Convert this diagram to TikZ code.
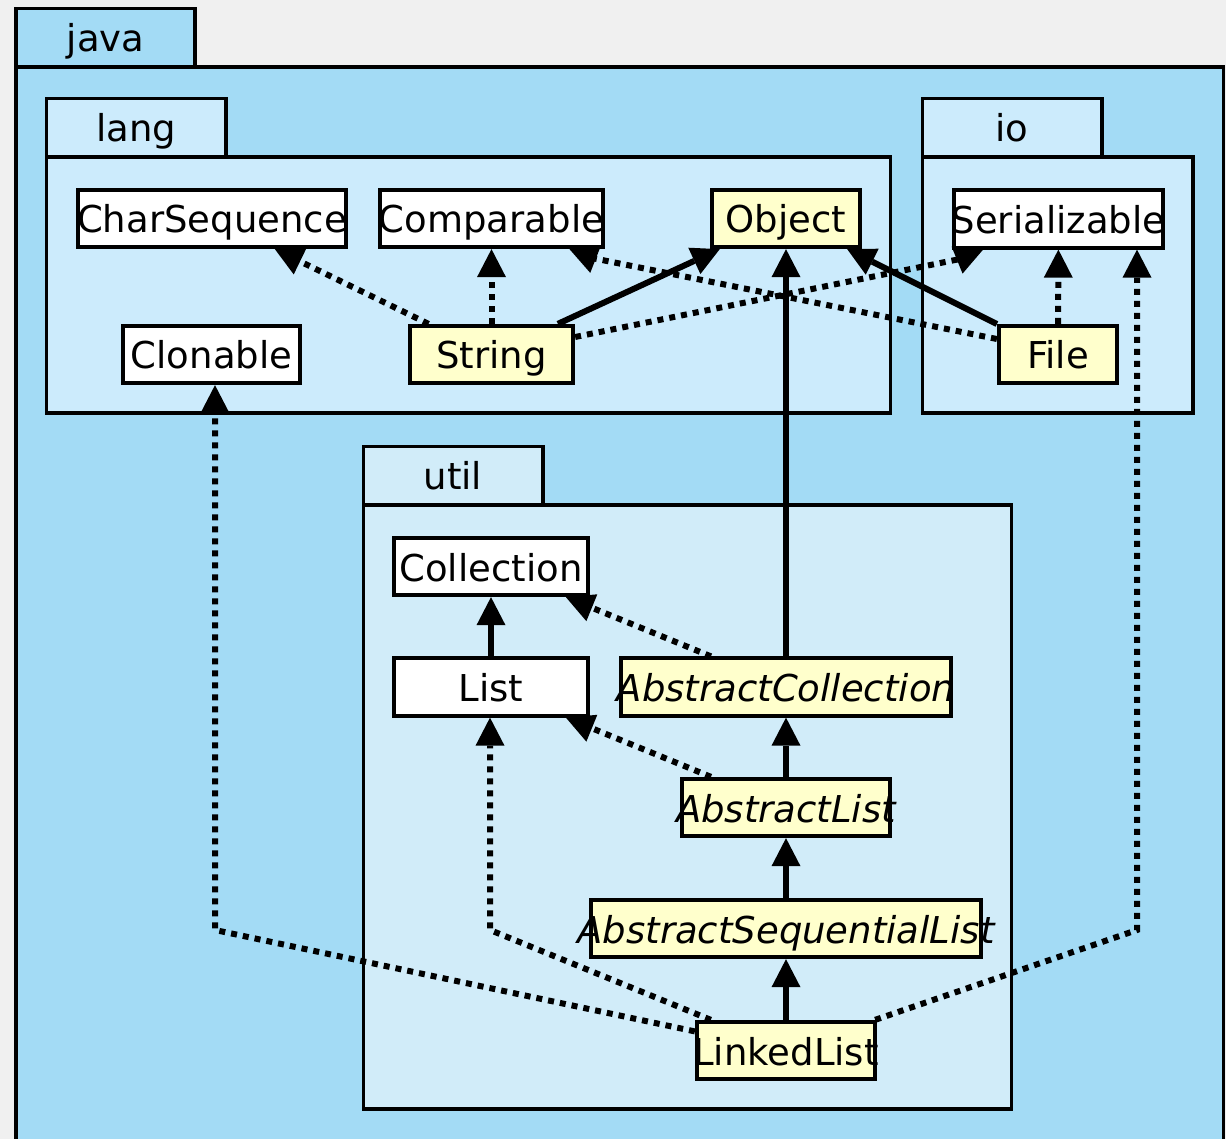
\documentclass[tikz,border=0pt]{standalone}
\usepackage{fontspec}
\setmainfont{DejaVu Sans}
\usetikzlibrary{arrows.meta,calc}

\definecolor{pagebg}{HTML}{F0F0F0}
\definecolor{javafill}{HTML}{A3DBF5}
\definecolor{langfill}{HTML}{CCEBFC}
\definecolor{utilfill}{HTML}{D1ECF9}
\definecolor{concrete}{HTML}{FFFFCC}

% class name that never widens its box
\newcommand{\clsname}[1]{\makebox[0pt][c]{#1}}

\tikzset{
  pkg/.style={draw=black, line width=3.5pt},
  pkglabel/.style={inner sep=0pt, text height=36pt, text depth=7pt,
    font=\fontsize{37}{44}\selectfont},
  cls/.style={draw=black, fill=white, line width=3.8pt, inner sep=0pt,
    minimum height=57.5pt, text height=36pt, text depth=7pt,
    font=\fontsize{37}{44}\selectfont},
  impl/.style={cls, fill=concrete},
  abstr/.style={impl, font=\fontsize{37}{44}\selectfont\itshape},
  solidline/.style={line width=6pt},
  dotline/.style={line width=6pt, dash pattern=on 6pt off 6pt},
  tip/.style={-{Triangle[length=28pt,width=29pt,line width=0pt]}},
}

\begin{document}
\begin{tikzpicture}[x=1pt, y=-1pt]
  \useasboundingbox (0,0) rectangle (1226,1139);
  \fill[pagebg] (0,0) rectangle (1226,1139);
  \clip (0,0) rectangle (1226,1139);

  % package java
  \filldraw[pkg, fill=javafill] (16,8.5) rectangle (195,67);
  \filldraw[pkg, fill=javafill] (16,67) rectangle (1223.5,1170);
  \node[pkglabel] (javalbl) at (105.5,37) {java};

  % package lang
  \filldraw[pkg, fill=langfill] (46.5,98.5) rectangle (226,157);
  \filldraw[pkg, fill=langfill] (46.5,157) rectangle (890.5,413);
  \node[pkglabel] (langlbl) at (136,127) {lang};

  % package io
  \filldraw[pkg, fill=langfill] (922.5,98.5) rectangle (1102,157);
  \filldraw[pkg, fill=langfill] (922.5,157) rectangle (1193,413);
  \node[pkglabel] (iolbl) at (1012,127) {io};

  % package util
  \filldraw[pkg, fill=utilfill] (363.5,446.5) rectangle (543,505);
  \filldraw[pkg, fill=utilfill] (363.5,505) rectangle (1011.5,1109);
  \node[pkglabel] (utillbl) at (453,475) {util};

  % classes of java.lang
  \node[cls, minimum width=268.5pt] (cs)   at (212,218.5)   {\clsname{CharSequence}};
  \node[cls, minimum width=223.5pt] (cmp)  at (491.5,218.5) {\clsname{Comparable}};
  \node[impl, minimum width=148.5pt] (obj) at (786,218.5)   {\clsname{Object}};
  \node[cls, minimum width=177.5pt] (clon) at (211.5,354.5) {\clsname{Clonable}};
  \node[impl, minimum width=163.5pt] (str) at (491.5,354.5) {\clsname{String}};

  % classes of java.io
  \node[cls, minimum width=209.5pt] (ser)   at (1058.5,219)  {\clsname{Serializable}};
  \node[impl, minimum width=118.5pt] (file) at (1058,354.5)  {\clsname{File}};

  % classes of java.util
  \node[cls, minimum width=193.5pt] (coll)  at (491,566.5)  {\clsname{Collection}};
  \node[cls, minimum width=193.5pt] (list)  at (491,687)    {\clsname{List}};
  \node[abstr, minimum width=330.5pt] (ac)  at (786,687)    {\clsname{AbstractCollection}};
  \node[abstr, minimum width=208.5pt] (al)  at (786,807.5)  {\clsname{AbstractList}};
  \node[abstr, minimum width=390.5pt] (asl) at (786,928.5)  {\clsname{AbstractSequentialList}};
  \node[impl, minimum width=178.5pt] (ll)   at (786,1050.5) {\clsname{LinkedList}};

  % bend points of the routed connectors
  \coordinate (m1) at (960,259);
  \coordinate (m2) at (592,258);
  \coordinate (b1) at (215,930);
  \coordinate (b2) at (490,930);
  \coordinate (b3) at (1137,930);

  % String
  \draw[dotline, tip] (str) -- (cs);
  \draw[dotline, tip] (str) -- (cmp);
  \draw[solidline, tip] (str) -- (obj);
  \draw[dotline, tip] ($(str.east)+(0,-17.5)$) -- (m1) -- (ser);

  % File
  \draw[dotline, tip] ($(file.west)+(0,-15.5)$) -- (m2) -- (cmp);
  \draw[solidline, tip] (file) -- (obj);
  \draw[dotline, tip] (file) -- (ser);

  % collections hierarchy
  \draw[solidline, tip] (ac) -- (obj);
  \draw[dotline, tip] (ac) -- (coll);
  \draw[solidline, tip] (list) -- (coll);
  \draw[dotline, tip] (al) -- (list);
  \draw[solidline, tip] (al) -- (ac);
  \draw[solidline, tip] (asl) -- (al);
  \draw[solidline, tip] (ll) -- (asl);

  % LinkedList interfaces
  \draw[dotline, tip] (ll) -- (b1) -- (b1 |- clon.south);
  \draw[dotline, tip] (ll) -- (b2) -- (b2 |- list.south);
  \draw[dotline, tip] (ll) -- (b3) -- (b3 |- ser.south);
\end{tikzpicture}
\end{document}
